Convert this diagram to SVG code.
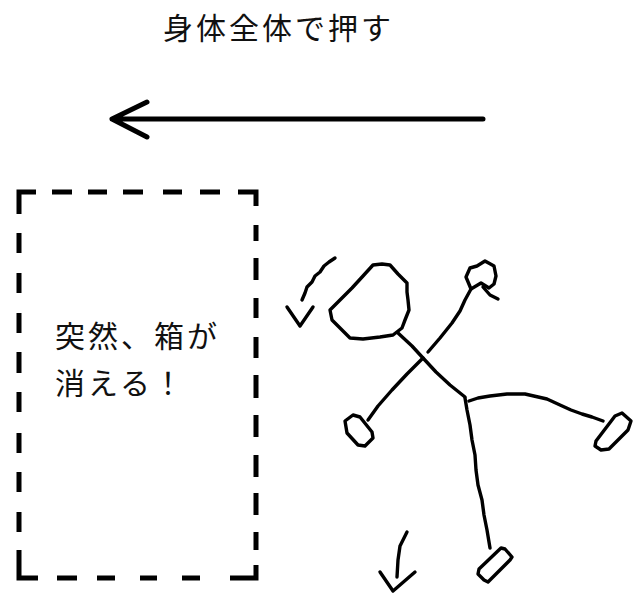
<svg xmlns="http://www.w3.org/2000/svg" width="633" height="595" viewBox="0 0 633 595">
  <style>
    .label { font-family: "Noto Sans CJK JP", "Noto Sans", sans-serif; font-size: 30px; letter-spacing: 3px; fill: #111; }
    .heavy { fill: none; stroke: #000; stroke-width: 5; stroke-linecap: round; stroke-linejoin: round; }
    .dash { fill: none; stroke: #000; stroke-width: 5; stroke-linecap: butt; stroke-linejoin: miter; }
    .sketch { fill: none; stroke: #000; stroke-width: 3.4; stroke-linecap: round; stroke-linejoin: round; }
  </style>

  <rect width="633" height="595" fill="#fff"/>

  <!-- caption above the push arrow -->
  <g id="caption">
    <text class="label" x="163" y="39">身体全体で押す</text>
  </g>

  <!-- connectors: push direction and motion hints -->
  <g id="connectors">
    <path class="heavy" d="M483 119 L112 119 M147 102 L112 119 L147 137"/>
    <!-- rotation hint beside the head -->
    <path class="sketch" d="M335 258 L329 262 L324 266 L320 272 L315 276 L312 282 L307 287 L305 293 L302 300"/>
    <path class="sketch" d="M287 307 L300 326 L313 307"/>
    <!-- falling hint below -->
    <path class="sketch" d="M407 532 L400 546 L398 560 L397 577"/>
    <path class="sketch" d="M380 572 L393 591 L415 572"/>
  </g>

  <!-- vanished box drawn as a dashed outline -->
  <g id="box">
    <path class="dash" d="
      M19 214 L19 192 L36 192
      M52 192 L72 192 M88 192 L107 192 M123 192 L143 192 M163 192 L182 192 M200 192 L220 192
      M238 192 L256 192 L256 206
      M256 225 L256 241 M256 258 L256 280 M256 298 L256 318 M256 337 L256 358 M256 375 L256 398
      M256 415 L256 437 M256 455 L256 477 M256 493 L256 515 M256 532 L256 550
      M256 565 L256 578 L230 578
      M200 578 L182 578 M157 578 L140 578 M115 578 L97 578 M77 578 L57 578
      M38 578 L19 578 L19 550
      M19 532 L19 512 M19 492 L19 472 M19 453 L19 433 M19 412 L19 392 M19 373 L19 352
      M19 333 L19 313 M19 293 L19 273 M19 253 L19 233"/>
    <text class="label" x="55" y="347">突然、箱が</text>
    <text class="label" x="55" y="394">消える！</text>
  </g>

  <!-- stick figure falling after the push -->
  <g id="figure">
    <!-- head -->
    <path class="sketch" d="M373 265 L382 264 L390 265 L398 274 L407 283 L407 292 L408 300 L409 310 L405 320 L402 328 L393 335 L380 337 L363 339 L350 338 L341 329 L332 320 L330 310 L340 300 L352 288 L363 276 Z"/>
    <!-- torso -->
    <path class="sketch" d="M398 333 L412 346 L423 358 L436 372 L450 385 L465 397"/>
    <!-- arm toward lower left -->
    <path class="sketch" d="M423 358 L407 374 L392 390 L378 406 L368 420"/>
    <path class="sketch" d="M345 421 L353 415 L360 417 L372 432 L373 438 L365 446 L358 445 L347 433 Z"/>
    <!-- arm raised to upper right, ending in a looped hand -->
    <path class="sketch" d="M428 352 L440 338 L452 323 L460 311 L465 300 L471 289"/>
    <path class="sketch" d="M471 289 L466 277 L470 268 L477 266 L485 261 L494 266 L496 276 L494 284 L489 288 L481 283 L471 289"/>
    <path class="sketch" d="M483 287 L490 295 L498 299"/>
    <!-- leg stretched to the right -->
    <path class="sketch" d="M469 401 L478 398 L490 396 L507 394 L525 394 L547 399 L560 405 L571 410 L582 414 L592 417 L603 421"/>
    <path class="sketch" d="M596 441 L615 416 L622 413 L631 421 L628 430 L609 449 L601 450 L595 446 Z"/>
    <!-- leg hanging down -->
    <path class="sketch" d="M465 398 L467 410 L470 425 L472 440 L475 455 L476 470 L478 485 L482 500 L484 515 L487 530 L490 548"/>
    <path class="sketch" d="M479 569 L501 548 L505 549 L512 557 L510 560 L488 582 L484 580 L478 574 Z"/>
  </g>
</svg>
